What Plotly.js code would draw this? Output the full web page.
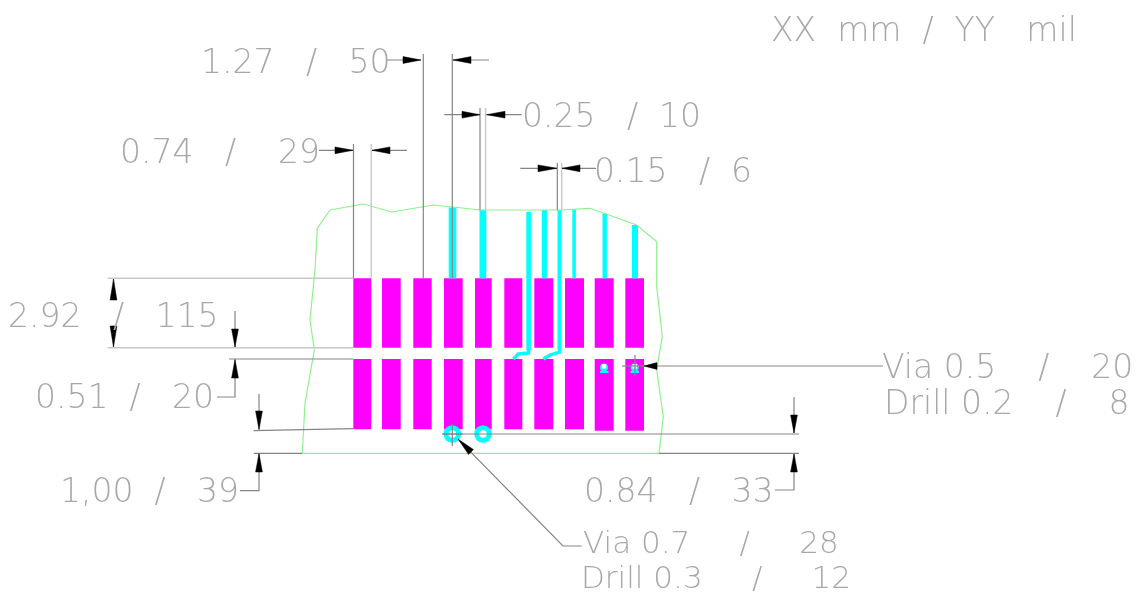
<!DOCTYPE html>
<html>
<head>
<meta charset="utf-8">
<script src="https://cdn.plot.ly/plotly-3.0.1.min.js"></script>
<style>html,body{margin:0;padding:0;background:#fff}#chart{width:1141px;height:598px}#chart svg{filter:blur(0.4px)}</style>
</head>
<body>
<div id="chart"></div>
<script>
// Copper pads
const padLeft  = [353.3, 382, 413.3, 444, 475, 504.3, 534.3, 565, 594.7, 625.3];
const padRight = [371.3, 400.7, 431.7, 462.7, 491.7, 522.3, 553.3, 584, 613.7, 644];
const upperTop = [278.3, 278.3, 278.3, 278.3, 278.3, 278.3, 278.3, 278.3, 278.3, 278.3];
const upperBottom = [347.7, 347.7, 347.7, 347.7, 347.7, 347.7, 347.7, 347.7, 347.7, 347.7];
const lowerTop = [359, 359, 359, 359, 359, 359, 359, 359, 359, 359];
const lowerBottom = [429.3, 429.3, 429.3, 429.3, 429.3, 429.3, 429.3, 429.3, 430.8, 430.8];

// Tracks
const trackLeft   = [448.7, 479.5, 526.3, 541.8, 557.5, 572.3, 602.5, 632];
const trackRight  = [456.3, 486.3, 530.9, 546.9, 561.5, 575.9, 606.9, 638];
const trackTop    = [207.5, 210, 212, 210, 210, 209.5, 213.5, 225];
const trackBottom = [278.3, 278.3, 350, 278.3, 349, 278.3, 278.3, 278.3];
const bendX = [528.5, 528.5, 518.3, 513.3, null, 559.5, 559.5, 550, 543.3];
const bendY = [349, 353, 354, 359, null, 348, 352, 355, 359];

// Vias
const bigViaX = [452.3, 483];
const bigViaY = [434, 434];
const smallViaX = [604, 634.7];
const smallViaY = [367.5, 367.5];
const smallHoleX = [604, 634.7];
const smallHoleY = [366.3, 366.3];
const viaFootX = [600, 608.5, null, 630.5, 639];
const viaFootY = [372, 372, null, 372, 372];

// Board outline
const outlineX = [302.3, 305, 314.3, 310, 315, 317.3, 330, 363.3, 391.7, 433.3, 453, 480, 560, 590, 636.7, 656.7, 656.7, 662.3, 656.7, 663.3, 659, 302.3];
const outlineY = [453.3, 403.3, 350, 320, 270, 228.3, 210, 204, 212, 205, 207, 210, 210, 208.3, 225, 241.7, 286.7, 336.7, 370, 416.7, 453.3, 453.3];

// Dimension lines, dark
const darkX = [353.5, 353.5, null, 423.3, 423.3, null, 452.3, 452.3, null, 480, 480, null, 557.3, 557.3, null,
  387, 421, null, 453, 489, null, 444.3, 480, null, 520.3, 557, null, 319, 353, null, 372, 407, null, 486.5, 521.7, null, 562, 596, null,
  229, 353, null, 253.7, 353, null, 253.7, 302, null, 235, 235, 217, null, 235, 235, null, 259, 259, 240, null, 259, 259, null,
  443, 799, null, 659, 799, null, 794, 794, 775, null, 794, 794, null, 883, 644, null, 622, 644, null, 635, 635, null,
  442, 463, null, 452.3, 452.3, null, 581.7, 563, 458.3];
const darkY = [144, 278, null, 54, 278, null, 54, 278, null, 108, 210, null, 163, 210, null,
  60, 60, null, 60, 60, null, 114.7, 114.7, null, 168.3, 168.3, null, 150.3, 150.3, null, 150.3, 150.3, null, 114.7, 114.7, null, 168.3, 168.3, null,
  359, 359, null, 430.7, 428.7, null, 453.3, 453.3, null, 359.5, 397, 397, null, 311, 347, null, 453.5, 490.7, 490.7, null, 394, 429.5, null,
  434, 434, null, 453.3, 453.3, null, 454, 490, 490, null, 397, 433, null, 366, 366, null, 366, 366, null, 355, 376, null,
  434, 434, null, 424, 446, null, 546, 546, 439.3];

// Dimension lines, light
const lightX = [371.2, 371.2, null, 485.6, 485.6, null, 561.7, 561.7, null, 107.7, 353, null, 107.7, 353, null, 113.5, 113.5, null, 113.5, 113.5];
const lightY = [144, 278, null, 108, 210, null, 163, 210, null, 278.3, 278.3, null, 347.7, 347.7, null, 279, 300, null, 325, 347];

// Arrowheads: tip and the middle of the back edge
const arrowTipX  = [421, 453, 480, 486.5, 557, 562, 353, 372, 113.5, 113.5, 235, 235, 259, 259, 794, 794, 644, 458.3];
const arrowTipY  = [60, 60, 114.7, 114.7, 168.3, 168.3, 150.3, 150.3, 279, 347, 347, 359.5, 429.5, 453.5, 433, 454, 366, 439.3];
const arrowBackX = [403, 471, 462, 505, 538, 580, 335, 390, 113.5, 113.5, 235, 235, 259, 259, 794, 794, 657, 471];
const arrowBackY = [60, 60, 114.7, 114.7, 168.3, 168.3, 150.3, 150.3, 300, 326, 329, 378, 411, 472, 415, 472, 366, 452];

// Labels, anchored at their left edge
const labelText = ["XX  mm  /  YY   mil", "1.27   /   50", "0.25   /  10", "0.74   /    29", "0.15   /  6", "2.92   /   115", "0.51  /   20", "1,00  /   39", "0.84   /   33", "Via 0.5    /    20", "Drill 0.2    /    8", "Via 0.7     /     28", "Drill 0.3     /     12"];
const labelX = [771, 201, 522, 120, 594, 8, 35, 60, 584, 882, 884, 583, 581];
const labelY = [33, 65, 119, 155, 174, 319, 400, 494, 494, 370, 406, 545, 580.5];
const labelSize = [33, 33, 33, 33, 33, 33, 33, 33, 33, 33, 33, 31, 31];

const MAGENTA = '#ff00ff', CYAN = '#00ffff';
const mid = (a, b) => a.map((v, i) => (v + b[i]) / 2);
const diff = (a, b) => a.map((v, i) => v - b[i]);

function bars(left, right, top, bottom, color) {
  return {type: 'bar', x: mid(left, right), width: diff(right, left), base: top, y: diff(bottom, top),
          marker: {color: color, line: {width: 0}}, hoverinfo: 'skip', showlegend: false};
}
function lines(x, y, color, width) {
  return {type: 'scatter', mode: 'lines', x: x, y: y, line: {color: color, width: width},
          connectgaps: false, hoverinfo: 'skip', showlegend: false};
}
function dots(x, y, symbol, size, color) {
  return {type: 'scatter', mode: 'markers', x: x, y: y, hoverinfo: 'skip', showlegend: false,
          marker: {symbol: symbol, size: size, color: color, line: {width: 0}}};
}
function arrowPolys() {
  const xs = [], ys = [], half = 3.4;
  arrowTipX.forEach((tx, i) => {
    const dx = arrowBackX[i] - tx, dy = arrowBackY[i] - arrowTipY[i];
    const len = Math.hypot(dx, dy), nx = -dy / len * half, ny = dx / len * half;
    xs.push(tx, arrowBackX[i] + nx, arrowBackX[i] - nx, tx, null);
    ys.push(arrowTipY[i], arrowBackY[i] + ny, arrowBackY[i] - ny, arrowTipY[i], null);
  });
  return {type: 'scatter', mode: 'lines', x: xs, y: ys, fill: 'toself', fillcolor: '#000',
          line: {color: '#000', width: 0.5}, hoverinfo: 'skip', showlegend: false};
}

const traces = [
  lines(outlineX, outlineY, '#90f090', 1.2),
  lines(lightX, lightY, '#c8c8c8', 1.4),
  bars(padLeft, padRight, upperTop, upperBottom, MAGENTA),
  bars(padLeft, padRight, lowerTop, lowerBottom, MAGENTA),
  bars(trackLeft, trackRight, trackTop, trackBottom, CYAN),
  lines(bendX, bendY, CYAN, 3.4),
  dots(bigViaX, bigViaY, 'circle', 17.5, CYAN),
  dots(bigViaX, bigViaY, 'circle', 7.5, '#fff'),
  dots(smallViaX, smallViaY, 'circle', 8, CYAN),
  lines(viaFootX, viaFootY, CYAN, 2.2),
  dots(smallHoleX, smallHoleY, 'square', 4.5, '#fff'),
  lines(darkX, darkY, '#858585', 1.2),
  arrowPolys(),
  {type: 'scatter', mode: 'text', x: labelX, y: labelY, text: labelText, textposition: 'middle right',
   textfont: {family: '"DejaVu Sans", sans-serif', size: labelSize, color: '#a8a8a8', weight: 200},
   hoverinfo: 'skip', showlegend: false, cliponaxis: false}
];

const hidden = {visible: false, showgrid: false, zeroline: false, fixedrange: true};
const layout = {
  width: 1141, height: 598,
  margin: {l: 0, r: 0, t: 0, b: 0},
  paper_bgcolor: '#fff', plot_bgcolor: '#fff',
  barmode: 'overlay', showlegend: false,
  xaxis: Object.assign({range: [0, 1141]}, hidden),
  yaxis: Object.assign({range: [598, 0]}, hidden)
};
Plotly.newPlot('chart', traces, layout, {displayModeBar: false, staticPlot: true});
</script>
</body>
</html>
